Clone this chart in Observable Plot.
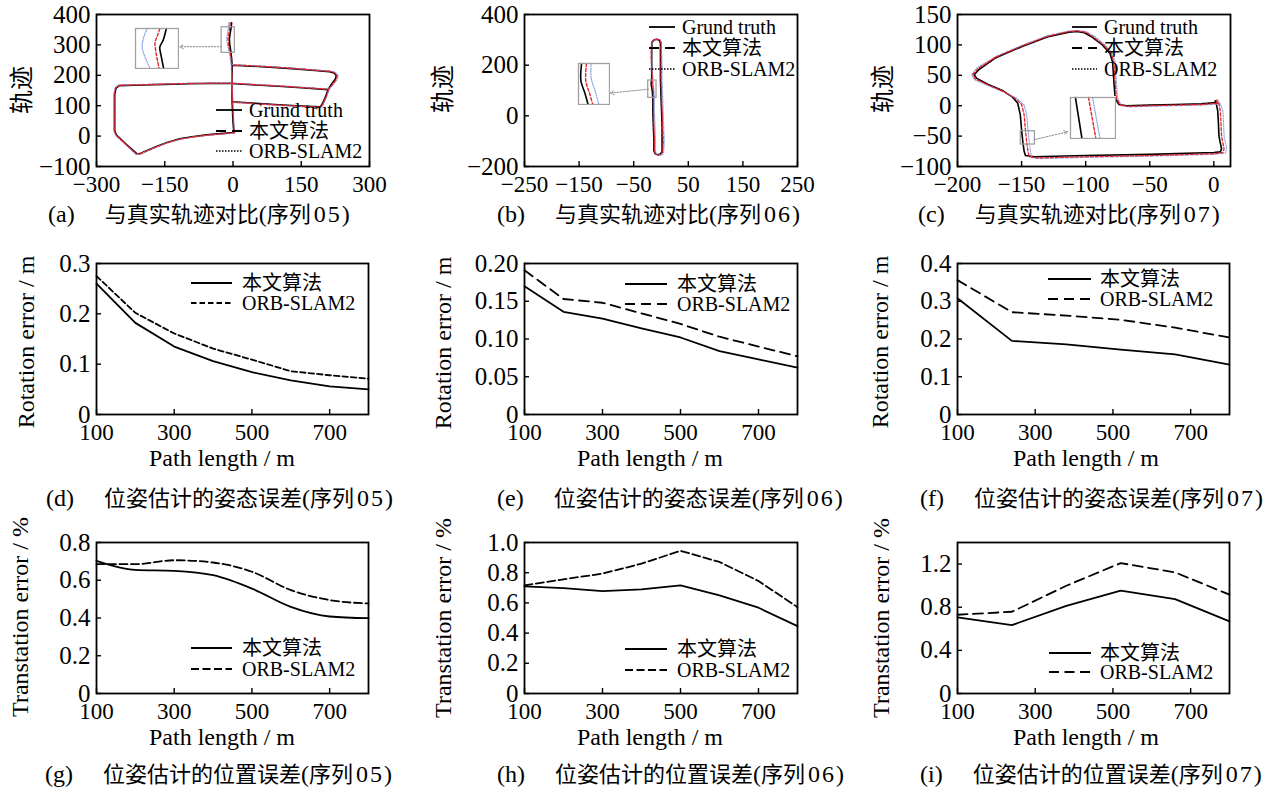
<!DOCTYPE html>
<html><head><meta charset="utf-8">
<script src="https://cdn.jsdelivr.net/npm/d3@7"></script>
<script src="https://cdn.jsdelivr.net/npm/@observablehq/plot@0.6"></script>
<style>
body{margin:0;background:#fff;}
#root{position:relative;width:1269px;height:796px;overflow:hidden;font-family:"Liberation Serif","Noto Sans CJK SC",serif;color:#000;background:#fff;}
.cap{position:absolute;font-size:22px;white-space:nowrap;transform:translate(0,-50%);line-height:1;}
.cap .lat{font-size:24px;}
.cap .gap{display:inline-block;width:30px;}
.cap .num{font-size:24px;letter-spacing:2px;margin-left:3px;}
.ylab{position:absolute;font-size:24px;white-space:nowrap;transform:translate(-50%,-50%) rotate(-90deg);line-height:1;}
.xlab{position:absolute;font-size:24px;white-space:nowrap;transform:translate(-50%,-50%);line-height:1;}
</style>
</head><body><div id="root"></div>
<script>
// ---------------- data: error curves ----------------
const xPath8 = [100,200,300,400,500,600,700,800];
const xPath6 = [100,240,380,520,660,800];
const rot05Ours = [0.260,0.182,0.135,0.106,0.084,0.068,0.056,0.050];
const rot05Orb  = [0.275,0.202,0.161,0.131,0.109,0.086,0.078,0.071];
const rot06Ours = [0.170,0.136,0.127,0.114,0.102,0.084,0.073,0.062];
const rot06Orb  = [0.191,0.153,0.148,0.134,0.120,0.103,0.090,0.077];
const rot07Ours = [0.308,0.195,0.186,0.172,0.159,0.132];
const rot07Orb  = [0.356,0.271,0.262,0.251,0.230,0.204];
const tra05Ours = [0.703,0.655,0.650,0.627,0.556,0.459,0.408,0.399];
const tra05Orb  = [0.685,0.685,0.706,0.694,0.645,0.548,0.495,0.477];
const tra06Ours = [0.709,0.698,0.678,0.690,0.716,0.650,0.568,0.446];
const tra06Orb  = [0.716,0.756,0.794,0.860,0.945,0.871,0.745,0.572];
const tra07Ours = [0.705,0.634,0.813,0.953,0.875,0.668];
const tra07Orb  = [0.730,0.758,0.999,1.209,1.123,0.916];

const seriesNames = ["Grund truth","本文算法","ORB-SLAM2"];

// ---------------- data: trajectories [x, z]; [NaN,NaN] separates pieces ----------------
const gt05 = [[-3,373],[-4,358],[-6,340],[-8,320],[-7,300],[-5,280],[-3,255],[-2,233],[-2,173],[-2,113],[-1,80],[0,45],[2,12],
[-20,9],[-58,4],[-90,-2],[-117,-9],[-145,-21],[-168,-34],[-190,-48],[-205,-58],[-212,-57],
[-234,-28],[-256,3],[-260,18],[-260,60],[-260,100],[-260,137],[-257,158],[-250,166],
[-200,168],[-150,170],[-100,172],[-50,173],[-4,173],[50,168],[100,164],[150,159],[209,153],
[216,170],[225,188],[227,199],[222,208],[212,212],[180,216],[130,222],[80,227],[30,231],[-2,233],
[NaN,NaN],[209,153],[203,128],[197,108],[192,96],[150,99],[100,103],[50,108],[-2,113]];
const ours05 = [[-6,373],[-7,358],[-9,340],[-11,320],[-10,300],[-7,280],[-4,255],[-3,234],[-2,174],[-1,112],[0,80],[1,45],[3,11],
[-20,8],[-58,3],[-90,-3],[-117,-10],[-145,-22],[-168,-35],[-190,-49],[-205,-59],[-213,-58],
[-235,-28],[-257,3],[-261,18],[-261,60],[-261,100],[-261,137],[-258,159],[-250,167],
[-200,169],[-150,171],[-100,173],[-50,174],[-3,174],[50,169],[100,165],[150,160],[210,154],
[218,169],[227,187],[229,199],[223,209],[213,213],[180,217],[130,223],[80,228],[30,232],[-3,234],
[NaN,NaN],[210,152],[204,127],[198,107],[193,95],[150,98],[100,102],[50,107],[-1,112]];
const orb05 = [[-9,373],[-10,358],[-12,340],[-14,320],[-12,300],[-9,280],[-6,255],[-4,235],[-2,175],[0,111],[1,80],[2,45],[4,10],
[-20,7],[-58,2],[-90,-4],[-117,-11],[-145,-23],[-168,-36],[-190,-50],[-205,-60],[-214,-59],
[-236,-28],[-258,3],[-262,18],[-262,60],[-262,100],[-262,137],[-259,160],[-251,168],
[-200,170],[-150,172],[-100,174],[-50,175],[-2,175],[50,170],[100,166],[150,161],[211,155],
[220,168],[229,186],[231,199],[225,210],[214,214],[180,218],[130,224],[80,229],[30,233],[-4,235],
[NaN,NaN],[211,151],[205,126],[199,106],[194,94],[150,97],[100,101],[50,106],[0,111]];

const gt06 = [[-8,302],[-13,299],[-16,292],[-17,270],[-17,230],[-17,190],[-17,150],[-18,125],[-16,100],[-15,70],[-15,20],[-14,-40],[-13,-100],[-13,-138],[-11,-149],[-6,-154],[-1,-151],[2,-142],[2,-100],[2,-40],[1,20],[0,80],[-1,140],[-1,200],[-1,260],[-1,287],[-3,298],[-8,302]];
const ours06 = [[-8,303],[-13,300],[-17,292],[-18,270],[-18,230],[-17,190],[-16,150],[-16,125],[-14,100],[-14,70],[-14,20],[-13,-40],[-12,-100],[-12,-139],[-10,-151],[-5,-155],[0,-152],[3,-143],[4,-100],[3,-40],[2,20],[1,80],[0,140],[0,200],[0,260],[0,288],[-2,299],[-8,303]];
const orb06 = [[-7,304],[-12,301],[-16,293],[-17,270],[-17,230],[-16,190],[-15,150],[-14,125],[-13,100],[-12,70],[-12,20],[-11,-40],[-10,-100],[-10,-140],[-8,-152],[-3,-157],[2,-154],[5,-144],[6,-100],[5,-40],[4,20],[3,80],[2,140],[2,200],[1,260],[1,289],[-1,300],[-7,304]];

const gt07 = [[2,5],[-10,3],[-30,2],[-50,1],[-68,0],[-74,2],[-77,12],[-78,40],[-79,72],[-81,86],[-87,100],[-95,113],[-101,120],[-107,122],[-113,121],[-130,113],[-150,97],[-170,79],[-183,60],[-187,51],[-185,45],[-176,35],[-165,25],[-157,14],[-153,4],[-151,-15],[-150,-40],[-149,-60],[-148,-75],[-147,-82],[-140,-84],[-100,-82],[-50,-80],[0,-77],[5,-76],[6,-71],[4,-50],[3.5,-25],[3,-8],[2,2],[1,8],[2,5]];
const ours07 = [[3,4],[-10,2],[-30,1],[-50,0],[-67,-1],[-73,1],[-76,12],[-77,40],[-78,72],[-80,86],[-86,100],[-94,113],[-100,121],[-107,123],[-113,122],[-130,114],[-150,98],[-170,80],[-184,61],[-188,51],[-186,44],[-176,34],[-164,23],[-155,12],[-150,2],[-148,-15],[-147,-40],[-146,-60],[-145,-76],[-144,-84],[-138,-86],[-100,-84],[-50,-82],[0,-79],[7,-77],[8,-71],[6,-50],[5.5,-25],[5,-8],[4,3],[2,9],[3,4]];
const orb07 = [[4,3],[-10,1],[-30,0],[-50,-1],[-66,-2],[-72,0],[-75,12],[-76,40],[-77,72],[-79,86],[-85,100],[-93,114],[-100,122],[-107,124],[-113,123],[-130,115],[-150,99],[-170,81],[-185,62],[-189,51],[-187,43],[-176,33],[-163,22],[-153,11],[-148,1],[-146,-15],[-145,-40],[-144,-60],[-143,-77],[-142,-85],[-136,-87],[-100,-85],[-50,-83],[0,-80],[9,-78],[10,-71],[8,-50],[7.5,-25],[7,-8],[5,3],[3,10],[4,3]];

// zoomed-in details (insets): region in the main plot, inset box, and the magnified curves
const rectA = {x:[-25,4], y:[274,358]},       boxA = {x:[-216,-118], y:[219,357]};
const zoomA = {gt:[[-4.2,358],[-6.4,333],[-8.6,319],[-7.6,299],[-6.0,274]],
               ours:[[-8.6,358],[-10.2,343],[-11.8,329],[-11.1,306],[-9.0,274]],
               orb:[[-17.2,358],[-19.4,340],[-20.5,319],[-18.3,296],[-15.1,274]]};
const arrowA = {x1:-25, y1:294, x2:-117, y2:294};
const rectB = {x:[-23.4,-8.2], y:[71,139.5]},   boxB = {x:[-153.5,-93.8], y:[43.6,211.7]};
const zoomB = {gt:[[-21.9,139.5],[-22.2,110],[-20.4,91.5],[-18.7,71]],
               ours:[[-19.5,139.5],[-19.8,110],[-17.9,88.8],[-16.4,71]],
               orb:[[-17.2,139.5],[-17.2,115.5],[-15.3,94.3],[-13.4,71]]};
const arrowB = {x1:-23.4, y1:105, x2:-92.5, y2:90};
const rectC = {x:[-150.6,-139.6], y:[-63.9,-42]}, boxC = {x:[-112.9,-76.5], y:[-55.6,14.6]};
const zoomC = {gt:[[-149.4,-42],[-147.8,-63.9]],
               ours:[[-146.2,-42],[-144.4,-63.9]],
               orb:[[-145.2,-42],[-143.4,-63.9]]};
const arrowC = {x1:-139.6, y1:-55.6, x2:-114.2, y2:-43};

// tick values
const ticksA = {x:[-300,-150,0,150,300], y:[-100,0,100,200,300,400]};
const ticksB = {x:[-250,-150,-50,50,150,250], y:[-200,0,200,400]};
const ticksC = {x:[-200,-150,-100,-50,0], y:[-100,-50,0,50,100,150]};
const ticksPath = [100,300,500,700];

// ---------------- rendering ----------------
const root = document.getElementById("root");
const FONT = '"Liberation Serif","Noto Sans CJK SC",serif';
const RED = "#e3222b", BLUE = "#8da5e8";
const fmtSigned = d => d < 0 ? "\u2212" + Math.abs(d) : String(d);
const fmtFixed = n => d => d === 0 ? "0" : d.toFixed(n);
const pts = arr => arr.map(([x, y]) => ({x, y}));
const zip = (xs, ys) => xs.map((x, i) => ({x, y: ys[i]}));

function makePanel(c) {
  const [mt, mr, mb, ml] = c.m;
  const fw = c.width - ml - mr, fh = c.height - mt - mb;
  const svg = Plot.plot({
    width: c.width, height: c.height,
    marginTop: mt, marginRight: mr, marginBottom: mb, marginLeft: ml,
    style: {fontFamily: FONT, fontSize: "23px", background: "transparent", color: "#000", overflow: "visible"},
    x: {domain: c.xDomain},
    y: {domain: c.yDomain},
    marks: [
      ...c.marks,
      Plot.axisX({ticks: c.xTicks, tickFormat: c.xFormat, tickSize: 0, tickPadding: 9, label: null, fontSize: 23}),
      Plot.axisY({ticks: c.yTicks, tickFormat: c.yFormat, tickSize: 0, tickPadding: 6, label: null, fontSize: 25}),
      Plot.ruleX(c.xTicks, {x: d => d, insetTop: fh - 5, stroke: "#000", strokeWidth: 1.4}),
      Plot.ruleY(c.yTicks, {y: d => d, insetRight: fw - 5, stroke: "#000", strokeWidth: 1.4}),
      Plot.frame({stroke: "#000", strokeWidth: 1.8})
    ]
  });
  svg.style.position = "absolute";
  svg.style.left = c.left + "px";
  svg.style.top = c.top + "px";
  root.appendChild(svg);
  const sx = d3.scaleLinear(c.xDomain, [ml, c.width - mr]);
  const sy = d3.scaleLinear(c.yDomain, [c.height - mb, mt]);
  return {sx: v => c.left + sx(v), sy: v => c.top + sy(v)};
}

function trajMarks(gt, ours, orb, rect, arrow) {
  return [
    Plot.line(pts(gt), {x: "x", y: "y", stroke: "#000", strokeWidth: 1.6}),
    Plot.line(pts(orb), {x: "x", y: "y", stroke: BLUE, strokeWidth: 1.2, strokeDasharray: "1,1.5"}),
    Plot.line(pts(ours), {x: "x", y: "y", stroke: RED, strokeWidth: 1.3, strokeDasharray: "3,2"}),
    Plot.rect([rect], {x1: r => r.x[0], x2: r => r.x[1], y1: r => r.y[0], y2: r => r.y[1], fill: "none", stroke: "#9a9a9a", strokeWidth: 1.2}),
    Plot.arrow([arrow], {x1: "x1", y1: "y1", x2: "x2", y2: "y2", stroke: "#8a8a8a", strokeWidth: 1, strokeDasharray: "1.5,1.5", headLength: 6})
  ];
}

function addInset(P, box, rect, z) {
  const x0 = P.sx(box.x[0]), x1 = P.sx(box.x[1]);
  const y0 = P.sy(box.y[1]), y1 = P.sy(box.y[0]);
  const w = Math.round(x1 - x0), h = Math.round(y1 - y0);
  const svg = Plot.plot({
    width: w, height: h, margin: 1,
    style: {background: "#fff", overflow: "hidden"},
    x: {domain: rect.x, axis: null}, y: {domain: rect.y, axis: null},
    marks: [
      Plot.line(pts(z.orb), {x: "x", y: "y", stroke: BLUE, strokeWidth: 1.3, strokeDasharray: "1,1.5", curve: "catmull-rom"}),
      Plot.line(pts(z.ours), {x: "x", y: "y", stroke: RED, strokeWidth: 1.4, strokeDasharray: "3,2", curve: "catmull-rom"}),
      Plot.line(pts(z.gt), {x: "x", y: "y", stroke: "#000", strokeWidth: 1.6, curve: "catmull-rom"}),
      Plot.frame({stroke: "#a0a0a0", strokeWidth: 1.3})
    ]
  });
  svg.style.position = "absolute";
  svg.style.left = Math.round(x0) + "px";
  svg.style.top = Math.round(y0) + "px";
  root.appendChild(svg);
}

// Row 1 : trajectories
const PA = makePanel({left: 0, top: 0, width: 400, height: 200, m: [14, 31, 34, 96],
  xDomain: [-300, 300], yDomain: [-100, 400], xTicks: ticksA.x, yTicks: ticksA.y, xFormat: fmtSigned, yFormat: fmtSigned,
  marks: trajMarks(gt05, ours05, orb05, rectA, arrowA)});
addInset(PA, boxA, rectA, zoomA);
const PB = makePanel({left: 420, top: 0, width: 420, height: 200, m: [14, 43, 34, 104],
  xDomain: [-250, 250], yDomain: [-200, 400], xTicks: ticksB.x, yTicks: ticksB.y, xFormat: fmtSigned, yFormat: fmtSigned,
  marks: trajMarks(gt06, ours06, orb06, rectB, arrowB)});
addInset(PB, boxB, rectB, zoomB);
const PC = makePanel({left: 840, top: 0, width: 429, height: 200, m: [14, 39, 34, 117],
  xDomain: [-200, 13], yDomain: [-100, 150], xTicks: ticksC.x, yTicks: ticksC.y, xFormat: fmtSigned, yFormat: fmtSigned,
  marks: trajMarks(gt07, ours07, orb07, rectC, arrowC)});
addInset(PC, boxC, rectC, zoomC);

// Rows 2, 3 : errors
function errMarks(xs, ours, orb, dash, curve) {
  return [
    Plot.line(zip(xs, orb), {x: "x", y: "y", stroke: "#000", strokeWidth: 1.8, strokeDasharray: dash, curve}),
    Plot.line(zip(xs, ours), {x: "x", y: "y", stroke: "#000", strokeWidth: 1.8, curve})
  ];
}
const cols = [
  {left: 0, width: 400, ml: 96, mr: 32},
  {left: 420, width: 420, ml: 104, mr: 43},
  {left: 840, width: 429, ml: 117, mr: 40}
];
const errPanels = [
  {row: 1, col: 0, xs: xPath8, ours: rot05Ours, orb: rot05Orb, yDomain: [0, 0.3], yTicks: [0, 0.1, 0.2, 0.3], yFormat: fmtFixed(1), dash: "5.5,3", curve: "linear"},
  {row: 1, col: 1, xs: xPath8, ours: rot06Ours, orb: rot06Orb, yDomain: [0, 0.2], yTicks: [0, 0.05, 0.10, 0.15, 0.20], yFormat: fmtFixed(2), dash: "10,6", curve: "linear"},
  {row: 1, col: 2, xs: xPath6, ours: rot07Ours, orb: rot07Orb, yDomain: [0, 0.4], yTicks: [0, 0.1, 0.2, 0.3, 0.4], yFormat: fmtFixed(1), dash: "10,6", curve: "linear"},
  {row: 2, col: 0, xs: xPath8, ours: tra05Ours, orb: tra05Orb, yDomain: [0, 0.8], yTicks: [0, 0.2, 0.4, 0.6, 0.8], yFormat: fmtFixed(1), dash: "8,3.5", curve: "monotone-x"},
  {row: 2, col: 1, xs: xPath8, ours: tra06Ours, orb: tra06Orb, yDomain: [0, 1.0], yTicks: [0, 0.2, 0.4, 0.6, 0.8, 1.0], yFormat: fmtFixed(1), dash: "8,3.5", curve: "linear"},
  {row: 2, col: 2, xs: xPath6, ours: tra07Ours, orb: tra07Orb, yDomain: [0, 1.4], yTicks: [0, 0.4, 0.8, 1.2], yFormat: fmtFixed(1), dash: "10,5.5", curve: "linear"}
];
const rows = {1: {top: 240, m: [23, 56]}, 2: {top: 510, m: [32, 47]}};
errPanels.forEach(p => {
  const c = cols[p.col], r = rows[p.row];
  makePanel({left: c.left, top: r.top, width: c.width, height: 230, m: [r.m[0], c.mr, r.m[1], c.ml],
    xDomain: [100, 800], yDomain: p.yDomain, xTicks: ticksPath, yTicks: p.yTicks, xFormat: d => String(d), yFormat: p.yFormat,
    marks: errMarks(p.xs, p.ours, p.orb, p.dash, p.curve)});
});

// ---------------- legends (overlay) ----------------
const ov = d3.select(root).append("svg").attr("width", 1269).attr("height", 796)
  .style("position", "absolute").style("left", 0).style("top", 0).style("font-family", FONT);
function legend(x0, x1, tx, items) {
  items.forEach(it => {
    ov.append("line").attr("x1", x0).attr("x2", x1).attr("y1", it.y).attr("y2", it.y)
      .attr("stroke", "#000").attr("stroke-width", it.w || 1.8).attr("stroke-dasharray", it.dash || null);
    ov.append("text").attr("x", tx).attr("y", it.y).attr("dy", "0.35em").attr("font-size", 20).text(it.label);
  });
}
const trajLegend = (x0, x1, tx, ys) => legend(x0, x1, tx, [
  {y: ys[0], label: seriesNames[0]},
  {y: ys[1], label: seriesNames[1], dash: "10,6", w: 2},
  {y: ys[2], label: seriesNames[2], dash: "1.5,1.5", w: 1.5}
]);
trajLegend(216, 242, 249, [110, 131, 151]);
trajLegend(649, 675, 682, [27, 48, 69]);
trajLegend(1072, 1097, 1104, [27, 48, 69]);
const errLegend = (x0, x1, tx, ys, dash) => legend(x0, x1, tx, [
  {y: ys[0], label: seriesNames[1]},
  {y: ys[1], label: seriesNames[2], dash}
]);
errLegend(191, 232, 242, [283, 303], "5.5,3");
errLegend(625, 667, 677, [284, 304], "10,6");
errLegend(1048, 1091, 1100, [279, 299], "10,6");
errLegend(191, 232, 242, [648, 669], "8,3.5");
errLegend(625, 667, 677, [649, 670], "8,3.5");
errLegend(1049, 1091, 1100, [653, 672], "10,5.5");

// ---------------- axis titles & captions ----------------
function addDiv(cls, x, y, html) {
  const d = document.createElement("div");
  d.className = cls; d.style.left = x + "px"; d.style.top = y + "px"; d.innerHTML = html;
  root.appendChild(d);
}
[[22, 90], [443, 89], [883, 89]].forEach(([x, y]) => addDiv("ylab", x, y, "轨迹"));
[[26, 342], [443, 343], [880, 342]].forEach(([x, y]) => addDiv("ylab", x, y, "Rotation error / m"));
[[20, 617], [443, 618], [881, 618]].forEach(([x, y]) => addDiv("ylab", x, y, "Transtation error / %"));
[[222, 458], [650, 458], [1086, 458], [222, 737], [650, 737], [1086, 737]].forEach(([x, y]) => addDiv("xlab", x, y, "Path length / m"));
const caps = [
  ["(a)", "与真实轨迹对比", "05", 48, 214], ["(b)", "与真实轨迹对比", "06", 497, 214], ["(c)", "与真实轨迹对比", "07", 918, 214],
  ["(d)", "位姿估计的姿态误差", "05", 46, 498], ["(e)", "位姿估计的姿态误差", "06", 497, 498], ["(f)", "位姿估计的姿态误差", "07", 920, 498],
  ["(g)", "位姿估计的位置误差", "05", 45, 774], ["(h)", "位姿估计的位置误差", "06", 497, 774], ["(i)", "位姿估计的位置误差", "07", 920, 774]
];
caps.forEach(([tag, txt, seq, x, y]) => addDiv("cap", x, y,
  `<span class="lat">${tag}</span><span class="gap"></span>${txt}<span class="lat">(</span>序列<span class="num">${seq}</span><span class="lat">)</span>`));
</script>
</body></html>
